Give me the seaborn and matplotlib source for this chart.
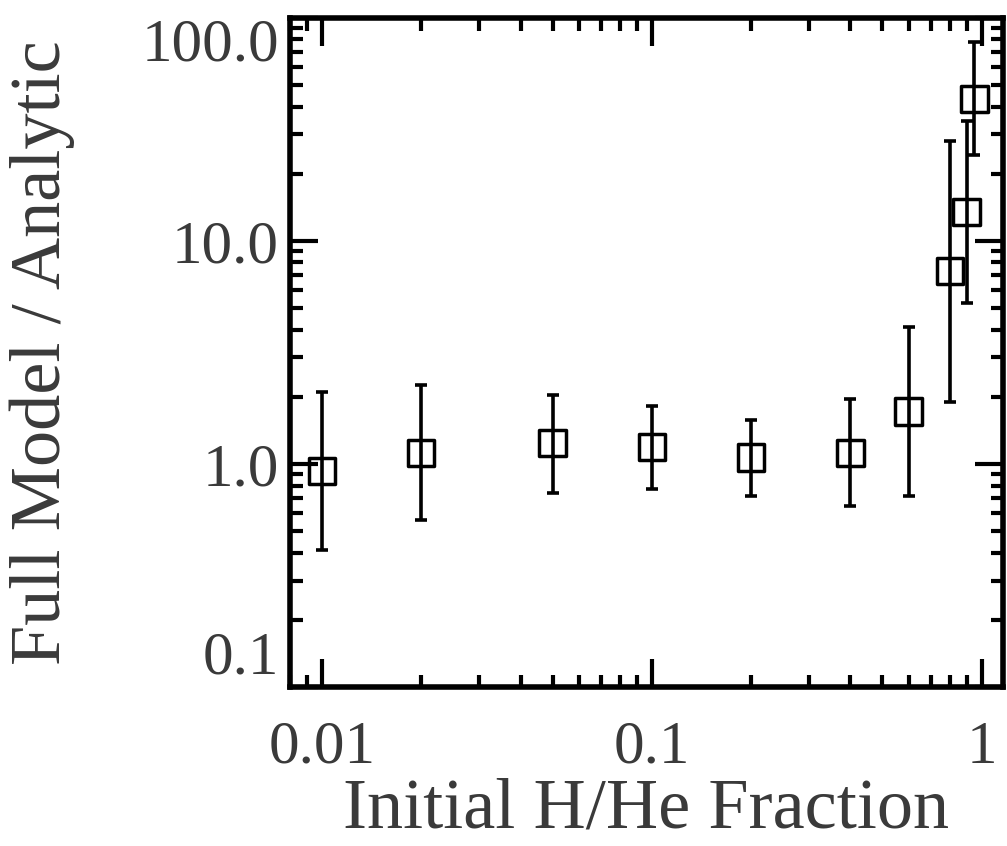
import numpy as np
import pandas as pd
import matplotlib
matplotlib.use("Agg")
import matplotlib.pyplot as plt
import matplotlib.ticker as mticker
import seaborn as sns

# valores
hhe_frac = [0.01, 0.02, 0.05, 0.1, 0.2, 0.4, 0.6, 0.8, 0.9, 0.95]
ratio = [0.93, 1.12, 1.24, 1.19, 1.07, 1.12, 1.72, 7.3, 13.5, 43.3]
err_hi = [2.11, 2.26, 2.04, 1.82, 1.58, 1.95, 4.09, 28.1, 34.5, 78.0]
err_lo = [0.41, 0.56, 0.74, 0.77, 0.72, 0.645, 0.72, 1.90, 5.25, 24.2]

df = pd.DataFrame({"frac": hhe_frac, "ratio": ratio, "hi": err_hi, "lo": err_lo})

sns.set_theme(style="ticks")
plt.rcParams["font.family"] = ["Liberation Serif", "DejaVu Serif"]
txt = "#3a3a3a"

fig = plt.figure(figsize=(10.07, 8.46), dpi=100)
ax = fig.add_axes([0.288, 0.188, 0.708, 0.791])

yerr = np.array([df["ratio"] - df["lo"], df["hi"] - df["ratio"]])
ax.errorbar(df["frac"], df["ratio"], yerr=yerr, fmt="none", ecolor="black",
            elinewidth=2.6, capsize=4.5, capthick=2.6, zorder=2)
sns.scatterplot(data=df, x="frac", y="ratio", marker="s", s=360,
                facecolor="none", edgecolor="black", linewidth=2.5, ax=ax, zorder=3)

ax.set_xscale("log")
ax.set_yscale("log")
ax.set_xlim(0.008, 1.16)
ax.set_ylim(0.1, 100)

ax.xaxis.set_major_locator(mticker.FixedLocator([0.01, 0.1, 1]))
ax.xaxis.set_major_formatter(mticker.FixedFormatter(["0.01", "0.1", "1"]))
ax.yaxis.set_major_locator(mticker.FixedLocator([0.1, 1, 10, 100]))
ax.yaxis.set_major_formatter(mticker.FixedFormatter(["0.1", "1.0", "10.0", "100.0"]))
ax.xaxis.set_minor_locator(mticker.LogLocator(base=10, subs=np.arange(2, 10)))
ax.yaxis.set_minor_locator(mticker.LogLocator(base=10, subs=np.arange(2, 10)))
ax.xaxis.set_minor_formatter(mticker.NullFormatter())
ax.yaxis.set_minor_formatter(mticker.NullFormatter())

ax.tick_params(which="both", direction="in", top=True, right=True, color="black")
ax.tick_params(which="major", length=20, width=3, labelsize=44, labelcolor=txt)
ax.tick_params(which="minor", length=9, width=3)
ax.tick_params(axis="x", which="major", pad=24)
ax.tick_params(axis="y", which="major", pad=8)
for s in ax.spines.values():
    s.set_linewidth(4)
    s.set_color("black")

# etiquetas extremas dentro de la figura, como en el original
fig.canvas.draw()
ylabs = ax.get_yticklabels()
ylabs[0].set_va("bottom")
ylabs[-1].set_va("top")

ax.set_xlabel("Initial H/He Fraction", fontsize=52, color=txt, labelpad=1)
ax.set_ylabel("Full Model / Analytic", fontsize=52, color=txt, labelpad=48)

fig.savefig("out.png", dpi=100)
